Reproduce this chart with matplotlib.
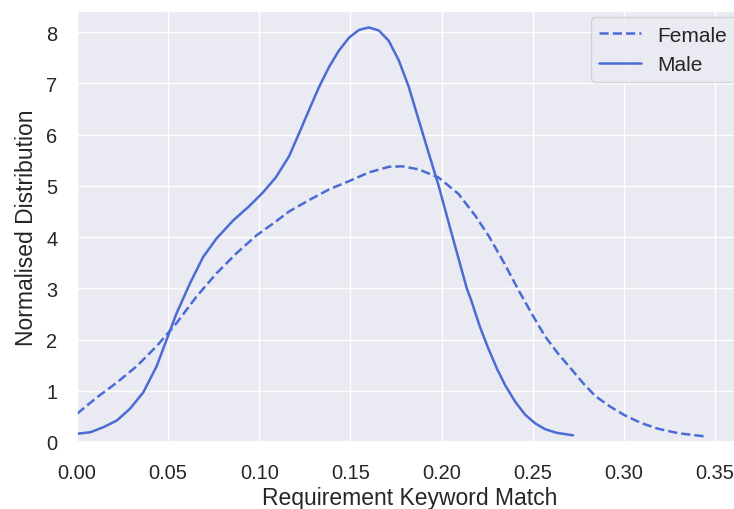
import matplotlib
import seaborn as sns
from matplotlib import pyplot as plt

matplotlib.use("Agg")

# KDE curves (x = keyword match, y = density)
male_x = [0.0, 0.0073, 0.0146, 0.0219, 0.0291, 0.0364, 0.0437, 0.0492, 0.0546,
          0.0619, 0.0692, 0.0765, 0.0856, 0.0947, 0.102, 0.109, 0.1164, 0.1219,
          0.1273, 0.1328, 0.1383, 0.1437, 0.1492, 0.1546, 0.1601, 0.1656, 0.171,
          0.1765, 0.182, 0.1874, 0.1929, 0.1984, 0.2038, 0.2093, 0.2138, 0.2164,
          0.221, 0.2257, 0.2305, 0.235, 0.2405, 0.2459, 0.2515, 0.2568, 0.263,
          0.2721]
male_y = [0.16, 0.19, 0.29, 0.42, 0.65, 0.97, 1.48, 2.0, 2.51,
          3.09, 3.61, 3.97, 4.32, 4.61, 4.87, 5.16, 5.58, 6.03,
          6.48, 6.93, 7.32, 7.64, 7.89, 8.04, 8.09, 8.03, 7.83,
          7.45, 6.93, 6.29, 5.64, 5.0, 4.29, 3.58, 3.0, 2.75,
          2.25, 1.82, 1.42, 1.1, 0.78, 0.53, 0.36, 0.25, 0.18,
          0.13]

female_x = [0.0, 0.0109, 0.0219, 0.0328, 0.0437, 0.0546, 0.0656, 0.0765, 0.0874,
            0.0984, 0.109, 0.1164, 0.1273, 0.1383, 0.1492, 0.1601, 0.171, 0.1783,
            0.1874, 0.1984, 0.2093, 0.2184, 0.2257, 0.2339, 0.2421, 0.2495, 0.2568,
            0.264, 0.271, 0.2776, 0.2842, 0.2925, 0.3005, 0.3095, 0.3186, 0.330,
            0.3443]
female_y = [0.55, 0.87, 1.16, 1.48, 1.87, 2.32, 2.84, 3.29, 3.68,
            4.03, 4.30, 4.50, 4.72, 4.93, 5.09, 5.26, 5.37, 5.38,
            5.32, 5.16, 4.84, 4.42, 4.03, 3.52, 2.97, 2.5, 2.06,
            1.72, 1.43, 1.15, 0.90, 0.69, 0.52, 0.37, 0.26, 0.17,
            0.11]

sns.set_theme(style="darkgrid")
plt.rcParams["font.family"] = ["Liberation Sans", "DejaVu Sans"]

fig = plt.figure(figsize=(7.34, 5.10), dpi=100)
ax = fig.add_axes([0.1049, 0.1314, 0.906, 0.845])

color = "#4a6cd4"
ax.plot(female_x, female_y, color=color, linestyle="--", linewidth=1.8, label="Female")
ax.plot(male_x, male_y, color=color, linestyle="-", linewidth=1.8, label="Male")

ax.set_xlim(0, 0.3648)
ax.set_ylim(0.07, 8.41)
ax.set_xticks([0.0, 0.05, 0.10, 0.15, 0.20, 0.25, 0.30, 0.35])
ax.set_xticklabels(["0.00", "0.05", "0.10", "0.15", "0.20", "0.25", "0.30", "0.35"])
ax.set_yticks(range(0, 9))
ax.tick_params(axis="x", labelsize=14.4, pad=9)
ax.tick_params(axis="y", labelsize=14.4, pad=8)
ax.set_xlabel("Requirement Keyword Match", fontsize=16.5, labelpad=3)
ax.set_ylabel("Normalised Distribution", fontsize=16.5, labelpad=6)
ax.legend(loc="upper right", fontsize=15, borderaxespad=0.3)

fig.savefig("out.png", dpi=100)
plt.close(fig)
